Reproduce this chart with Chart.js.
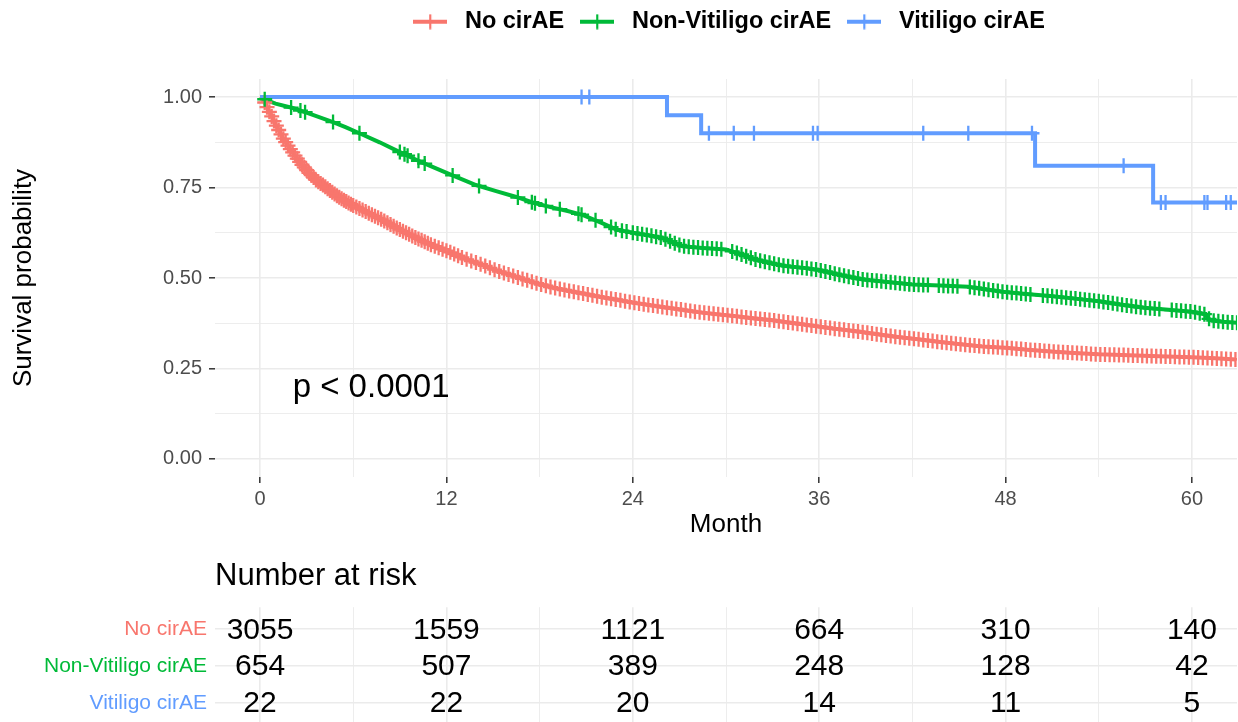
<!DOCTYPE html>
<html>
<head>
<meta charset="utf-8">
<title>Survival by cirAE group</title>
<script src="https://cdn.jsdelivr.net/npm/chart.js@4.4.1/dist/chart.umd.min.js"></script>
<style>
  html, body { margin: 0; padding: 0; background: #fff; }
  #wrap { width: 1238px; height: 722px; }
  canvas { display: block; }
</style>
</head>
<body>
<div id="wrap">
  <canvas id="km" width="1238" height="545"></canvas>
  <canvas id="risk" width="1238" height="177"></canvas>
</div>
<script>
const FONT = '"Liberation Sans", Arial, Helvetica, sans-serif';

const groups = ['No cirAE', 'Non-Vitiligo cirAE', 'Vitiligo cirAE'];
const colors = ['#F8766D', '#00BA38', '#619CFF'];

// No cirAE curve (month, survival)
const noTime = [0, 0.3, 0.64, 1.0, 1.5, 2.0, 2.6, 3.1, 3.6, 4.2, 4.7, 5.2, 5.8, 6.5, 7.2, 7.9, 8.6, 9.3,
  10.1, 11.0, 12.2, 13.2, 14.4, 15.4, 16.5, 17.6, 18.7, 19.8, 20.8, 22.0, 23.0, 24.0, 25.1, 26.2,
  27.2, 28.3, 29.4, 30.5, 31.7, 33.0, 34.4, 35.6, 37.0, 38.5, 40.0, 41.2, 42.5, 43.8, 45.1, 46.5,
  48.0, 49.4, 50.9, 52.4, 54.0, 55.5, 56.9, 58.4, 60.0, 61.5, 62.8];
const noSurv = [1, 0.985, 0.956, 0.925, 0.885, 0.853, 0.818, 0.793, 0.771, 0.752, 0.735, 0.72, 0.705, 0.69, 0.675, 0.66, 0.643, 0.627,
  0.61, 0.592, 0.572, 0.553, 0.535, 0.518, 0.503, 0.488, 0.475, 0.465, 0.457, 0.447, 0.44, 0.432, 0.425, 0.418,
  0.412, 0.405, 0.4, 0.395, 0.389, 0.383, 0.375, 0.368, 0.36, 0.352, 0.343, 0.336, 0.33, 0.323, 0.317, 0.311,
  0.307, 0.302, 0.297, 0.293, 0.289, 0.287, 0.285, 0.283, 0.281, 0.278, 0.275];
const noCensor = [0.3, 0.45, 0.6, 0.75, 0.9, 1.05, 1.2, 1.35, 1.5, 1.65, 1.8, 1.95, 2.1, 2.25, 2.4, 2.55, 2.7,
  2.85, 3.0, 3.15, 3.3, 3.45, 3.6, 3.75, 3.9, 4.05, 4.2, 4.35, 4.5, 4.65, 4.8, 4.95, 5.1, 5.25, 5.4, 5.55,
  5.7, 5.85, 6.0, 6.2, 6.4, 6.6, 6.8, 7.0, 7.2, 7.4, 7.6, 7.8, 8.0, 8.2, 8.4, 8.6, 8.8, 9.0, 9.2, 9.4, 9.6,
  9.8, 10.0, 10.2, 10.4, 10.6, 10.8, 11.0, 11.25, 11.5, 11.75, 12.0, 12.25, 12.5, 12.75, 13.0, 13.3, 13.6,
  13.9, 14.2, 14.5, 14.8, 15.1, 15.4, 15.7, 16.0, 16.3, 16.6, 16.9, 17.2, 17.5, 17.8, 18.1, 18.4, 18.7,
  19.0, 19.3, 19.6, 19.9, 20.2, 20.5, 20.8, 21.1, 21.4, 21.7, 22.0, 22.3, 22.6, 22.9, 23.2, 23.5, 23.8,
  24.1, 24.4, 24.7, 25.0, 25.3, 25.6, 25.9, 26.2, 26.5, 26.8, 27.1, 27.4, 27.7, 28.0, 28.3, 28.6, 28.9,
  29.2, 29.5, 29.8, 30.1, 30.4, 30.7, 31.0, 31.3, 31.6, 31.9, 32.2, 32.5, 32.8, 33.1, 33.4, 33.7, 34.0,
  34.3, 34.6, 34.9, 35.2, 35.5, 35.8, 36.1, 36.4, 36.7, 37.0, 37.3, 37.6, 37.9, 38.2, 38.5, 38.8, 39.1,
  39.4, 39.7, 40.0, 40.3, 40.6, 40.9, 41.2, 41.5, 41.8, 42.1, 42.4, 42.7, 43.0, 43.3, 43.6, 43.9, 44.2,
  44.5, 44.8, 45.1, 45.4, 45.7, 46.0, 46.3, 46.6, 46.9, 47.2, 47.5, 47.8, 48.1, 48.4, 48.7, 49.0, 49.3,
  49.6, 49.9, 50.2, 50.5, 50.8, 51.1, 51.4, 51.7, 52.0, 52.3, 52.6, 52.9, 53.2, 53.5, 53.8, 54.1, 54.4,
  54.7, 55.0, 55.3, 55.6, 55.9, 56.2, 56.5, 56.8, 57.1, 57.4, 57.7, 58.0, 58.3, 58.6, 58.9, 59.2, 59.5,
  59.8, 60.1, 60.4, 60.7, 61.0, 61.3, 61.6, 61.9, 62.2, 62.5, 62.8];

// Non-Vitiligo cirAE
const nvTime = [0, 0.5, 1.0, 2.1, 3.4, 4.7, 5.5, 6.4, 7.7, 9.0, 10.5, 12.2, 13.9, 15.2, 16.5, 17.6, 18.7,
  19.8, 20.8, 21.95, 23.0, 24.0, 25.0, 25.9, 26.6, 27.2, 28.5, 30.0, 31.0, 31.9, 33.0, 33.8, 35.0, 36.0,
  37.4, 38.8, 40.4, 42.0, 43.8, 45.6, 46.8, 48.0, 49.5, 50.9, 52.5, 54.0, 55.5, 56.9, 58.5, 60.0, 60.8,
  61.2, 62.0, 62.9];
const nvSurv = [1, 0.99, 0.982, 0.97, 0.951, 0.931, 0.917, 0.9, 0.875, 0.848, 0.818, 0.787, 0.757, 0.74, 0.724, 0.708, 0.696,
  0.685, 0.674, 0.653, 0.633, 0.625, 0.618, 0.611, 0.598, 0.588, 0.583, 0.579, 0.565, 0.551, 0.54, 0.533, 0.528, 0.522,
  0.508, 0.496, 0.489, 0.482, 0.479, 0.476, 0.468, 0.461, 0.455, 0.45, 0.443, 0.436, 0.426, 0.418, 0.412, 0.407, 0.4,
  0.383, 0.379, 0.376];
const nvCensor = [0.3, 2.0, 2.6, 2.9, 4.7, 6.4, 9.0, 9.3, 9.5, 10.2, 10.6, 12.4, 14.1, 16.6, 17.5, 17.7, 18.4,
  19.3, 20.5, 20.7, 21.6, 22.6, 22.9, 23.3, 23.6, 24.0, 24.3, 24.6, 24.9, 25.2, 25.5, 25.8, 26.1, 26.4, 26.7,
  27.0, 27.3, 27.6, 27.9, 28.2, 28.5, 28.8, 29.1, 29.4, 29.7, 30.4, 30.7, 31.0, 31.3, 31.6, 31.9, 32.2, 32.5,
  32.8, 33.1, 33.4, 33.7, 34.0, 34.3, 34.6, 34.9, 35.2, 35.5, 35.8, 36.1, 36.4, 36.7, 37.0, 37.3, 37.6, 37.9,
  38.2, 38.5, 38.8, 39.1, 39.4, 39.7, 40.0, 40.3, 40.6, 40.9, 41.2, 41.5, 41.8, 42.1, 42.4, 42.7, 43.0, 43.7,
  44.0, 44.3, 44.6, 44.9, 45.7, 46.0, 46.3, 46.6, 46.9, 47.2, 47.5, 47.8, 48.1, 48.4, 48.7, 49.0, 49.3, 49.6,
  50.4, 50.7, 51.0, 51.3, 51.6, 51.9, 52.2, 52.5, 52.8, 53.1, 53.4, 53.7, 54.0, 54.3, 54.6, 54.9, 55.2, 55.5,
  55.8, 56.1, 56.4, 56.7, 57.0, 57.3, 57.6, 57.9, 58.7, 59.0, 59.3, 59.6, 59.9, 60.2, 60.5, 60.8, 61.1, 61.4,
  61.7, 62.0, 62.3, 62.6, 62.9];

// Vitiligo cirAE (few events, drawn as steps)
const vitTime = [0, 26.2, 28.4, 49.9, 57.5, 62.9];
const vitSurv = [1, 0.95, 0.9, 0.81, 0.709, 0.709];
const vitCensor = [20.7, 21.2, 28.9, 30.5, 31.8, 35.6, 35.9, 42.7, 45.6, 49.7, 55.6, 58.0, 58.3, 60.8, 61.0, 62.2, 62.5];

// number at risk table
const riskTimes = [0, 12, 24, 36, 48, 60];
const riskNo = [3055, 1559, 1121, 664, 310, 140];
const riskNonVit = [654, 507, 389, 248, 128, 42];
const riskVit = [22, 22, 20, 14, 11, 5];

const monthTicks = [0, 6, 12, 18, 24, 30, 36, 42, 48, 54, 60];
const survTicks = [0, 0.125, 0.25, 0.375, 0.5, 0.625, 0.75, 0.875, 1];

const GRID = '#EBEBEB';

// survival value on the drawn curve at time t
function curveAt(times, surv, t, stepped) {
  let i = 0;
  while (i < times.length - 1 && times[i + 1] <= t) i++;
  if (stepped || i === times.length - 1) return surv[i];
  const f = (t - times[i]) / (times[i + 1] - times[i]);
  return surv[i] + f * (surv[i + 1] - surv[i]);
}

function curveSet(times, surv, color, stepped, order) {
  return {
    data: times.map((t, i) => ({ x: t, y: surv[i] })),
    borderColor: color,
    borderWidth: 4,
    pointRadius: 0,
    stepped: stepped,
    tension: 0,
    fill: false,
    order: order
  };
}

function censorSet(cens, times, surv, color, stepped, order) {
  return {
    data: cens.map(t => ({ x: t, y: curveAt(times, surv, t, stepped) })),
    showLine: false,
    pointStyle: 'cross',
    pointRadius: 7.5,
    pointBorderWidth: 2.3,
    pointBorderColor: color,
    pointBackgroundColor: color,
    borderColor: color,
    order: order
  };
}

function legendIcon(color) {
  const c = document.createElement('canvas');
  c.width = 34;
  c.height = 16;
  const g = c.getContext('2d');
  g.fillStyle = color;
  g.fillRect(0, 6, 34, 4);
  g.fillRect(16, 0.5, 2.2, 15);
  return c;
}

const isMajorMonth = v => v % 12 === 0;
const isMajorSurv = v => Math.abs(v * 4 - Math.round(v * 4)) < 1e-6;

// leave room between the legend and the panel
const legendGap = {
  id: 'legendGap',
  beforeInit(chart) {
    const fit = chart.legend.fit;
    chart.legend.fit = function () {
      fit.call(this);
      this.height = 79;
    };
  }
};

const pValue = {
  id: 'pValue',
  afterDatasetsDraw(chart) {
    const { ctx, scales } = chart;
    ctx.save();
    ctx.font = '33px ' + FONT;
    ctx.fillStyle = '#000';
    ctx.textAlign = 'left';
    ctx.textBaseline = 'middle';
    ctx.fillText('p < 0.0001', scales.x.getPixelForValue(2.1), scales.y.getPixelForValue(0.196));
    ctx.restore();
  }
};

new Chart(document.getElementById('km'), {
  type: 'line',
  data: {
    datasets: [
      curveSet(noTime, noSurv, colors[0], false, 6),
      curveSet(nvTime, nvSurv, colors[1], false, 5),
      curveSet(vitTime, vitSurv, colors[2], 'before', 4),
      censorSet(noCensor, noTime, noSurv, colors[0], false, 3),
      censorSet(nvCensor, nvTime, nvSurv, colors[1], false, 2),
      censorSet(vitCensor, vitTime, vitSurv, colors[2], true, 1)
    ]
  },
  options: {
    responsive: false,
    animation: false,
    events: [],
    layout: { autoPadding: false, padding: { top: 0, right: 1, bottom: 0, left: 0 } },
    scales: {
      x: {
        type: 'linear',
        min: -2.9,
        max: 62.9,
        afterBuildTicks: s => { s.ticks = monthTicks.map(v => ({ value: v })); },
        afterFit: s => { s.height = 68; },
        border: { display: false },
        grid: {
          color: GRID,
          lineWidth: c => isMajorMonth(c.tick.value) ? 1.6 : 0.9,
          tickColor: c => isMajorMonth(c.tick.value) ? '#333333' : 'rgba(0,0,0,0)',
          tickLength: 6,
          tickWidth: 1.5
        },
        ticks: {
          autoSkip: false,
          maxRotation: 0,
          padding: 4,
          color: '#4D4D4D',
          font: { family: FONT, size: 20 },
          callback: v => isMajorMonth(v) ? String(v) : ''
        },
        title: {
          display: true,
          text: 'Month',
          color: '#000',
          font: { family: FONT, size: 26 },
          padding: { top: 0, bottom: 5 }
        }
      },
      y: {
        type: 'linear',
        min: -0.05,
        max: 1.05,
        afterBuildTicks: s => { s.ticks = survTicks.map(v => ({ value: v })); },
        afterFit: s => { s.width = 215; },
        border: { display: false },
        grid: {
          color: GRID,
          lineWidth: c => isMajorSurv(c.tick.value) ? 1.6 : 0.9,
          tickColor: c => isMajorSurv(c.tick.value) ? '#333333' : 'rgba(0,0,0,0)',
          tickLength: 6,
          tickWidth: 1.5
        },
        ticks: {
          autoSkip: false,
          padding: 7,
          color: '#4D4D4D',
          font: { family: FONT, size: 20 },
          callback: v => isMajorSurv(v) ? v.toFixed(2) : ''
        },
        title: {
          display: true,
          text: 'Survival probability',
          color: '#000',
          font: { family: FONT, size: 26 },
          padding: { top: 8, bottom: 0 }
        }
      }
    },
    plugins: {
      tooltip: { enabled: false },
      legend: {
        position: 'top',
        fullSize: false,
        labels: {
          usePointStyle: true,
          pointStyleWidth: 46,
          padding: 10,
          color: '#000',
          font: { family: FONT, size: 23.5, weight: 'bold' },
          generateLabels: () => groups.map((g, i) => ({
            text: g,
            pointStyle: legendIcon(colors[i]),
            fillStyle: colors[i],
            strokeStyle: colors[i],
            fontColor: '#000',
            lineWidth: 0,
            hidden: false,
            datasetIndex: i
          }))
        }
      }
    }
  },
  plugins: [legendGap, pValue]
});

// risk table numbers are drawn at the scatter points
const riskNumbers = {
  id: 'riskNumbers',
  afterDatasetsDraw(chart) {
    const ctx = chart.ctx;
    ctx.save();
    ctx.font = '30px ' + FONT;
    ctx.fillStyle = '#000';
    ctx.textAlign = 'center';
    ctx.textBaseline = 'middle';
    chart.data.datasets.forEach((ds, i) => {
      chart.getDatasetMeta(i).data.forEach((pt, j) => {
        ctx.fillText(String(ds.data[j].n), pt.x, pt.y + 1);
      });
    });
    ctx.restore();
  }
};

const riskRows = [riskNo, riskNonVit, riskVit];

new Chart(document.getElementById('risk'), {
  type: 'scatter',
  data: {
    datasets: riskRows.map((row, r) => ({
      data: riskTimes.map((t, j) => ({ x: t, y: 3 - r, n: row[j] })),
      pointRadius: 0
    }))
  },
  options: {
    responsive: false,
    animation: false,
    events: [],
    layout: { autoPadding: false, padding: { top: 0, right: 1, bottom: 0, left: 0 } },
    scales: {
      x: {
        type: 'linear',
        min: -2.9,
        max: 62.9,
        afterBuildTicks: s => { s.ticks = monthTicks.map(v => ({ value: v })); },
        afterFit: s => { s.height = 0; s.paddingLeft = 0; s.paddingRight = 0; },
        border: { display: false },
        grid: {
          color: GRID,
          lineWidth: c => isMajorMonth(c.tick.value) ? 1.6 : 0.9,
          drawTicks: false
        },
        ticks: { display: false }
      },
      y: {
        type: 'linear',
        min: 0.48,
        max: 3.6,
        afterBuildTicks: s => { s.ticks = [3, 2, 1].map(v => ({ value: v })); },
        afterFit: s => { s.width = 215; s.paddingTop = 0; s.paddingBottom = 0; },
        border: { display: false },
        grid: { color: GRID, lineWidth: 1.6, drawTicks: false },
        ticks: {
          autoSkip: false,
          padding: 8,
          font: { family: FONT, size: 21 },
          color: c => colors[3 - c.tick.value],
          callback: v => groups[3 - v]
        }
      }
    },
    plugins: {
      tooltip: { enabled: false },
      legend: { display: false },
      title: {
        display: true,
        text: 'Number at risk',
        align: 'start',
        fullSize: false,
        color: '#000',
        font: { family: FONT, size: 31, weight: 'normal' },
        padding: { top: 13, bottom: 12 }
      }
    }
  },
  plugins: [riskNumbers]
});
</script>
</body>
</html>
